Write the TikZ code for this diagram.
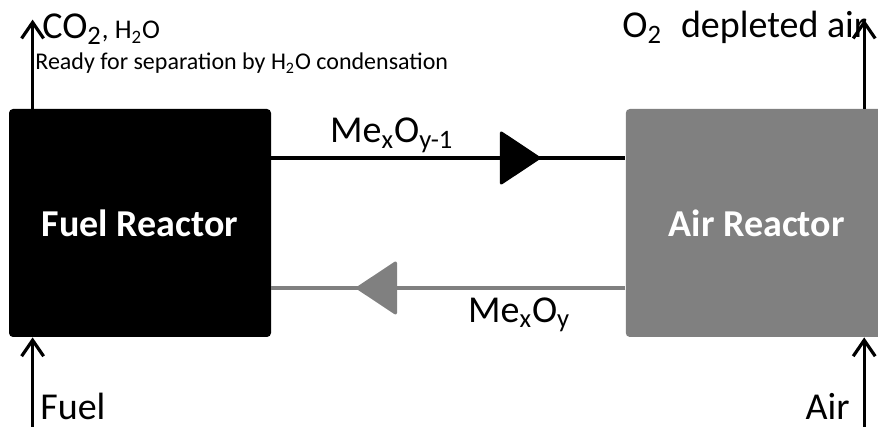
\documentclass[tikz,border=0pt]{standalone}
\usepackage{fontspec}
\setmainfont{Carlito}
\usepackage{xcolor}
\usepackage{tikz}
\usetikzlibrary{arrows.meta, positioning, decorations.markings}
\definecolor{gris}{RGB}{128,128,128}
\tikzset{
	reacteur/.style={
		rounded corners=2pt,
		minimum width=131pt,
		minimum height=114pt,
		align=center,
		text=white,
		font=\fontsize{19}{23}\selectfont\bfseries
	},
	fleche/.style={
		-{Straight Barb[length=8pt, width=11pt]},
		line width=1.6pt
	},
	flux/.style={
		line width=1.6pt,
		postaction={decorate},
		decoration={markings, mark=at position 0.76 with {\arrow{Triangle[length=21pt, width=27.5pt, round]}}}
	},
	grand/.style={inner sep=0pt, font=\fontsize{19}{23}\selectfont},
	petit/.style={inner sep=0pt, font=\fontsize{12}{14}\selectfont}
}

\begin{document}
\begin{tikzpicture}[x=0.5pt, y=0.5pt]
		\useasboundingbox (0,0) rectangle (878,427);
		
		% Les deux reacteurs
		\node[reacteur, fill=black] (FR) at (140,204) {Fuel Reactor};
		\node[reacteur, fill=gris, right=177pt of FR] (AR) {Air Reactor};
		
		%--- Points d'entree / sortie ---
		\path (FR.north west) ++( 24,0) coordinate (FRh);
		\path (FR.south west) ++( 24,0) coordinate (FRb);
		\path (AR.north east) ++(-24,0) coordinate (ARh);
		\path (AR.south east) ++(-24,0) coordinate (ARb);
		
		% bouts libres des fleches
		\path (FRh) ++(0, 89) coordinate (FRsortie);
		\path (ARh) ++(0, 89) coordinate (ARsortie);
		\path (FRb) ++(0,-95) coordinate (FRentree);
		\path (ARb) ++(0,-95) coordinate (ARentree);
		
		%--- Entrees et sorties ---
		\draw[fleche] (FRh) -- (FRsortie);
		\draw[fleche] (ARh) -- (ARsortie);
		\draw[fleche] (FRentree) -- (FRb);
		\draw[fleche] (ARentree) -- (ARb);
		
		%--- Textes ---
		\node[grand, anchor=base west] (gaz) at (42,388) {CO\textsubscript{2}{\fontsize{13.5}{15}\selectfont, H\textsubscript{2}O}};
		\node[petit, anchor=base west] (note) at (35,357) {Ready for separation by H\textsubscript{2}O condensation};
		\node[grand, anchor=base west] (appauvri) at (622,389) {O\textsubscript{2}\hspace{0.5em}depleted air};
		\node[grand, anchor=base west] (fuel) at (40,7) {Fuel};
		\node[grand, anchor=base east] (air) at (850,7) {Air};
		
		%--- Circulation de l'oxyde entre les reacteurs ---
		\draw[flux] ([yshift=32.5pt]FR.east) -- node[grand, pos=.34, above=2pt]{Me\textsubscript{x}O\textsubscript{y-1}} ([yshift=32.5pt]AR.west);
		\draw[flux, color=gris] ([yshift=-32.5pt]AR.west) -- node[grand, text=black, pos=.30, below=4pt]{Me\textsubscript{x}O\textsubscript{y}} ([yshift=-32.5pt]FR.east);
	\end{tikzpicture}
\end{document}
